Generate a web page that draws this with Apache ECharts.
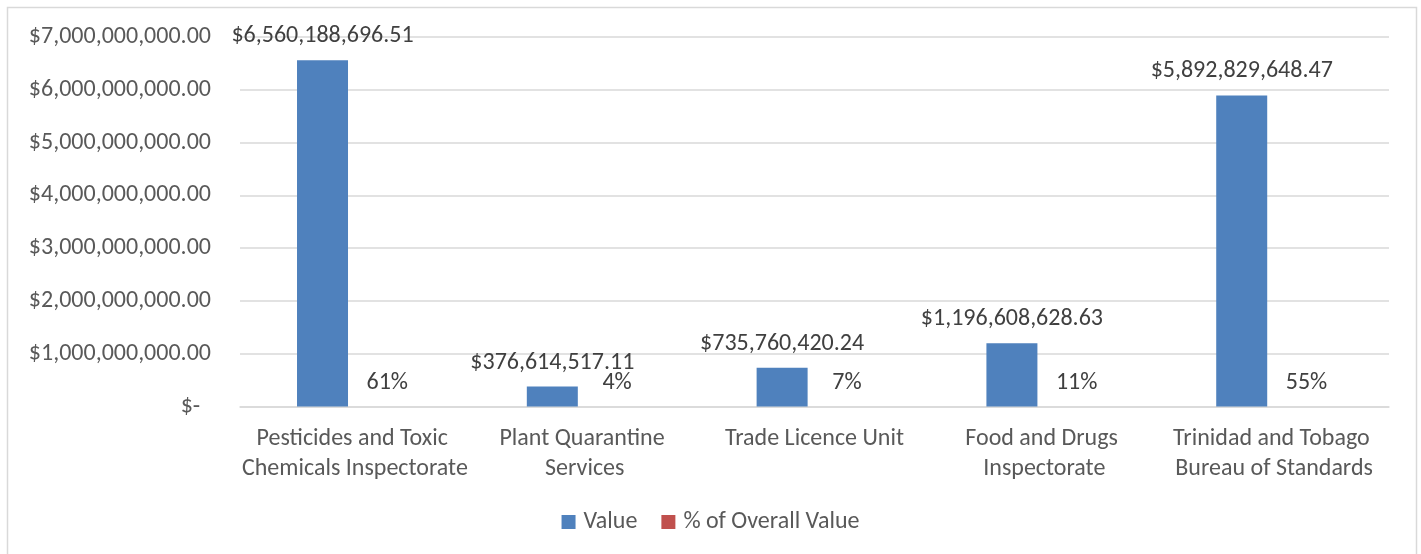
<!DOCTYPE html>
<html>
<head>
<meta charset="utf-8">
<script src="https://cdn.jsdelivr.net/npm/echarts@6/dist/echarts.min.js"></script>
<style>
  html, body { margin: 0; padding: 0; background: #fff; }
  #chart { width: 1421px; height: 554px; }
</style>
</head>
<body>
<div id="chart"></div>
<script>
// data
let categories = [
    'Pesticides and Toxic Chemicals Inspectorate',
    'Plant Quarantine Services',
    'Trade Licence Unit',
    'Food and Drugs Inspectorate',
    'Trinidad and Tobago Bureau of Standards'
];
let values = [6560188696.51, 376614517.11, 735760420.24, 1196608628.63, 5892829648.47];
let shares = [0.61, 0.04, 0.07, 0.11, 0.55];
let seriesNames = ['Value', '% of Overall Value'];

let font = 'Calibri, Carlito, "Noto Sans", sans-serif';

function money (v) {
    if (v === 0) return '$-  ';
    return '$' + v.toLocaleString('en-US', {minimumFractionDigits: 2, maximumFractionDigits: 2});
}

let myChart = echarts.init(document.getElementById('chart'));
myChart.setOption({
    animation: false,
    textStyle: { fontFamily: font },
    graphic: [{
        type: 'rect',
        shape: { x: 7.5, y: 7.5, width: 1409, height: 580 },
        style: { fill: 'none', stroke: '#d9d9d9', lineWidth: 1.5 },
        silent: true
    }],
    legend: {
        bottom: 15,
        left: 'center',
        itemWidth: 14,
        itemHeight: 14,
        itemGap: 24,
        icon: 'rect',
        textStyle: { fontFamily: font, fontSize: 24, color: '#595959', padding: [0, 0, 0, 3] },
        data: seriesNames
    },
    grid: {
        left: 240,
        right: 32,
        top: 37,
        bottom: 147.5
    },
    xAxis: {
        type: 'category',
        data: categories,
        axisLine: { lineStyle: { color: '#d9d9d9', width: 1.5 } },
        axisTick: { show: false },
        axisLabel: {
            interval: 0,
            margin: 17,
            width: 232,
            overflow: 'break',
            lineHeight: 30,
            fontSize: 24,
            fontFamily: font,
            color: '#595959'
        }
    },
    yAxis: {
        type: 'value',
        min: 0,
        max: 7000000000,
        interval: 1000000000,
        axisLine: { show: false },
        axisTick: { show: false },
        splitLine: { lineStyle: { color: '#d9d9d9', width: 1.5 } },
        axisLabel: {
            margin: 29,
            fontSize: 24,
            fontFamily: font,
            color: '#595959',
            formatter: money
        }
    },
    series: [
        {
            name: seriesNames[0],
            type: 'bar',
            data: values,
            barWidth: 51,
            barGap: '27%',
            itemStyle: { color: '#4f81bd' },
            label: {
                show: true,
                position: 'top',
                distance: 12,
                fontSize: 24,
                fontFamily: font,
                color: '#404040',
                formatter: p => money(p.value)
            }
        },
        {
            name: seriesNames[1],
            type: 'bar',
            data: shares,
            barWidth: 51,
            itemStyle: { color: '#c0504d' },
            label: {
                show: true,
                position: 'top',
                distance: 12,
                fontSize: 24,
                fontFamily: font,
                color: '#404040',
                formatter: p => Math.round(p.value * 100) + '%'
            }
        }
    ]
});
</script>
</body>
</html>
